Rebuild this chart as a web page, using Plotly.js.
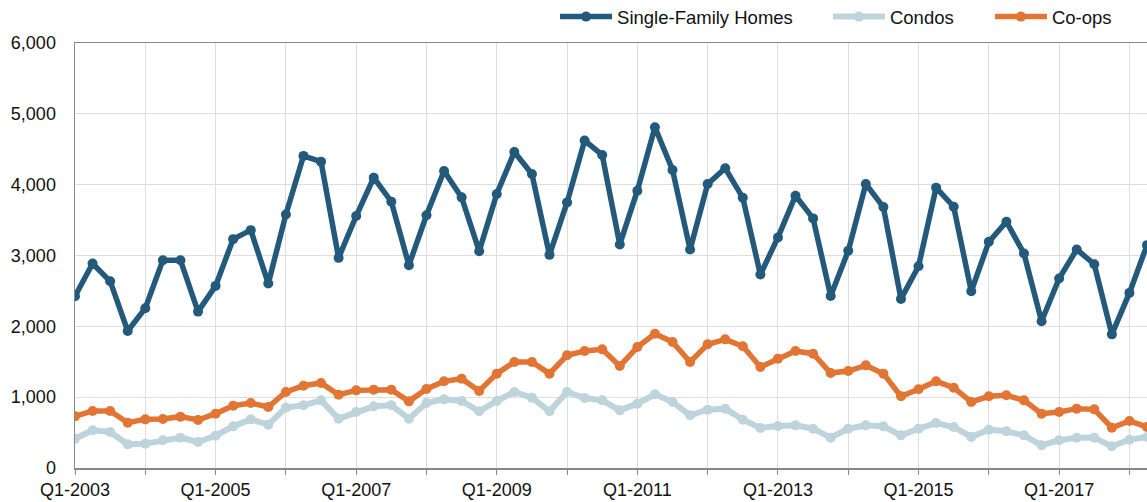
<!DOCTYPE html>
<html>
<head>
<meta charset="utf-8">
<script src="https://cdn.plot.ly/plotly-3.0.1.min.js"></script>
<style>
html,body{margin:0;padding:0;background:#fff;}
#chart{width:1147px;height:502px;}
</style>
</head>
<body>
<div id="chart"></div>
<script>
const quarters = [
  "Q1-2003","Q2-2003","Q3-2003","Q4-2003",
  "Q1-2004","Q2-2004","Q3-2004","Q4-2004",
  "Q1-2005","Q2-2005","Q3-2005","Q4-2005",
  "Q1-2006","Q2-2006","Q3-2006","Q4-2006",
  "Q1-2007","Q2-2007","Q3-2007","Q4-2007",
  "Q1-2008","Q2-2008","Q3-2008","Q4-2008",
  "Q1-2009","Q2-2009","Q3-2009","Q4-2009",
  "Q1-2010","Q2-2010","Q3-2010","Q4-2010",
  "Q1-2011","Q2-2011","Q3-2011","Q4-2011",
  "Q1-2012","Q2-2012","Q3-2012","Q4-2012",
  "Q1-2013","Q2-2013","Q3-2013","Q4-2013",
  "Q1-2014","Q2-2014","Q3-2014","Q4-2014",
  "Q1-2015","Q2-2015","Q3-2015","Q4-2015",
  "Q1-2016","Q2-2016","Q3-2016","Q4-2016",
  "Q1-2017","Q2-2017","Q3-2017","Q4-2017",
  "Q1-2018","Q2-2018"
];

const singleFamily = [
  2425, 2887, 2637, 1934, 2255, 2934, 2934, 2208,
  2571, 3231, 3358, 2604, 3580, 4406, 4325, 2967,
  3557, 4099, 3759, 2863, 3568, 4193, 3821, 3061,
  3868, 4462, 4151, 3009, 3750, 4623, 4420, 3156,
  3915, 4811, 4208, 3085, 4009, 4231, 3816, 2731,
  3255, 3844, 3524, 2429, 3066, 4009, 3684, 2387,
  2849, 3958, 3689, 2495, 3193, 3476, 3028, 2071,
  2675, 3085, 2877, 1887, 2472, 3146
];

const condos = [
  414, 532, 508, 334, 344, 391, 428, 367,
  456, 588, 687, 612, 852, 885, 955, 696,
  791, 871, 885, 696, 918, 969, 946, 800,
  946, 1073, 993, 800, 1073, 988, 955, 814,
  908, 1040, 932, 744, 824, 838, 682, 565,
  593, 602, 555, 428, 555, 602, 588, 461,
  555, 635, 579, 438, 541, 518, 461, 320,
  391, 428, 428, 306, 400, 438
];

const coops = [
  729, 805, 805, 640, 687, 692, 725, 678,
  767, 880, 918, 861, 1073, 1162, 1200, 1035,
  1096, 1106, 1106, 941, 1115, 1224, 1261, 1087,
  1332, 1496, 1496, 1332, 1591, 1652, 1675, 1440,
  1708, 1896, 1779, 1496, 1746, 1816, 1718, 1426,
  1544, 1652, 1614, 1341, 1369, 1449, 1332, 1012,
  1111, 1224, 1134, 932, 1012, 1026, 955, 767,
  791, 838, 828, 569, 664, 579
];

const seriesNames = ["Single-Family Homes", "Condos", "Co-ops"];
const yTickVals = [0, 1000, 2000, 3000, 4000, 5000, 6000];
const yTickText = ["0", "1,000", "2,000", "3,000", "4,000", "5,000", "6,000"];
const xTickVals = ["Q1-2003","Q1-2004","Q1-2005","Q1-2006","Q1-2007","Q1-2008","Q1-2009","Q1-2010","Q1-2011","Q1-2012","Q1-2013","Q1-2014","Q1-2015","Q1-2016","Q1-2017","Q1-2018"];
const xTickText = ["Q1-2003","","Q1-2005","","Q1-2007","","Q1-2009","","Q1-2011","","Q1-2013","","Q1-2015","","Q1-2017",""];

const colors = ["#235a7b", "#bdd4dc", "#e27434"];

function mk(name, y, color, lw, leg) {
  return {
    type: "scatter",
    mode: "lines+markers",
    name: name,
    legend: leg,
    x: quarters,
    y: y,
    line: {color: color, width: lw},
    marker: {color: color, size: 10},
    cliponaxis: true
  };
}

const traces = [
  mk(seriesNames[2], coops, colors[2], 5.5, "legend3"),
  mk(seriesNames[1], condos, colors[1], 6, "legend2"),
  mk(seriesNames[0], singleFamily, colors[0], 5.5, "legend")
];

function leg(xpos) {
  return {
    orientation: "h",
    x: xpos,
    xanchor: "left",
    yref: "container",
    y: 0.966,
    yanchor: "middle",
    font: {size: 18.5, color: "#111"},
    itemwidth: 52,
    bgcolor: "rgba(0,0,0,0)",
    borderwidth: 0
  };
}

const layout = {
  width: 1147,
  height: 502,
  margin: {l: 75, r: 0, t: 43, b: 34},
  paper_bgcolor: "#fff",
  plot_bgcolor: "#fff",
  font: {family: "Liberation Sans, Arial, sans-serif", size: 18, color: "#111"},
  showlegend: true,
  legend: leg(0.4478),
  legend2: leg(0.7024),
  legend3: leg(0.8535),
  xaxis: {
    type: "category",
    categoryorder: "array",
    categoryarray: quarters,
    range: [0, 61],
    tickmode: "array",
    tickvals: xTickVals,
    ticktext: xTickText,
    ticks: "outside",
    ticklen: 5,
    tickcolor: "#888",
    showgrid: true,
    gridcolor: "#dedede",
    gridwidth: 1,
    showline: true,
    linecolor: "#888",
    linewidth: 1.5,
    mirror: true,
    zeroline: false,
    tickangle: 0,
    fixedrange: true
  },
  yaxis: {
    range: [0, 6000],
    tickmode: "array",
    tickvals: yTickVals,
    ticktext: yTickText,
    ticks: "",
    ticklabelstandoff: 14,
    showgrid: true,
    gridcolor: "#dedede",
    gridwidth: 1,
    showline: true,
    linecolor: "#888",
    linewidth: 1.5,
    zeroline: false,
    fixedrange: true
  }
};

Plotly.newPlot("chart", traces, layout, {displayModeBar: false, staticPlot: true});
</script>
</body>
</html>
